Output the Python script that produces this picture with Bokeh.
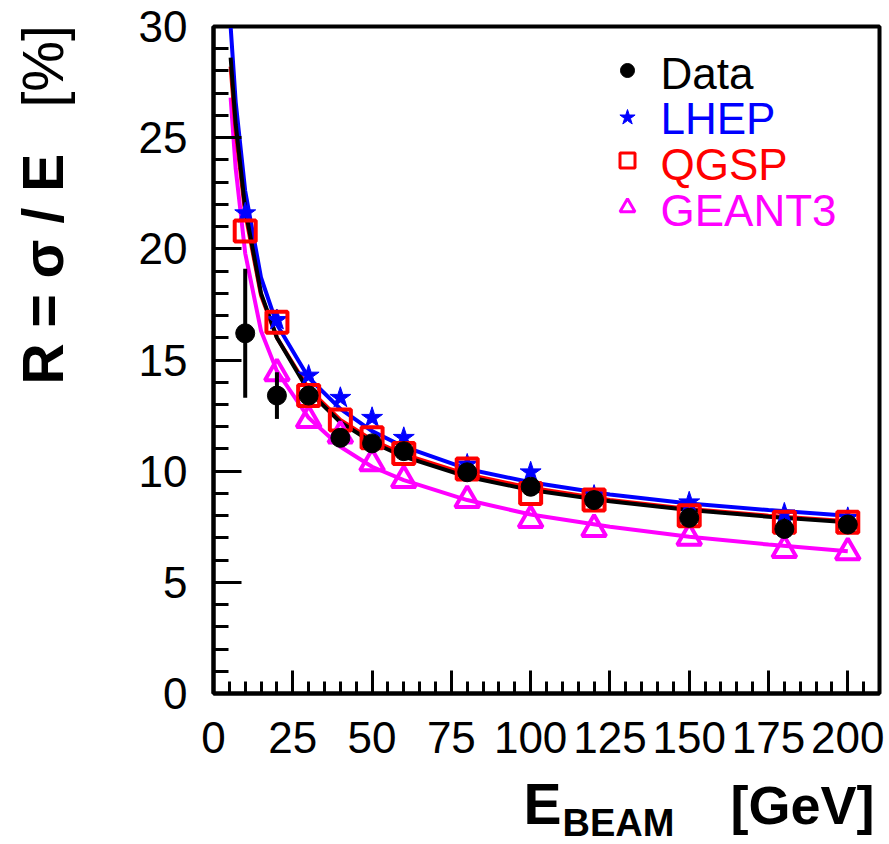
import math
from bokeh.plotting import figure
from bokeh.layouts import column, row
from bokeh.models import Range1d, SingleIntervalTicker, Label
from bokeh.embed import file_html
from bokeh.resources import INLINE

# ---------------- data ----------------
e_points = [10, 20, 30, 40, 50, 60, 80, 100, 120, 150, 180, 200]
data_r = [16.2, 13.4, 13.4, 11.5, 11.25, 10.9, 9.95, 9.3, 8.7, 7.9, 7.4, 7.6]
data_err = [2.9, 1.05, 0.3, 0.3, 0.3, 0.3, 0.3, 0.3, 0.3, 0.3, 0.3, 0.3]
lhep_r = [21.6, 16.8, 14.3, 13.3, 12.4, 11.5, 10.3, 9.95, 8.9, 8.6, 8.1, 7.9]
qgsp_r = [20.8, 16.7, 13.4, 12.3, 11.5, 10.8, 10.1, 9.0, 8.7, 8.0, 7.7, 7.7]
e_geant = [20, 30, 40, 50, 60, 80, 100, 120, 150, 180, 200]
geant3_r = [14.4, 12.3, 11.6, 10.35, 9.6, 8.7, 7.8, 7.4, 7.0, 6.45, 6.35]

# fitted curves
e_curve = [5.4, 7, 10, 15, 20, 30, 40, 50, 60, 80, 100, 125, 150, 175, 200]
fit_data = [28.6, 25.6, 21.8, 18.0, 16.0, 13.6, 12.2, 11.3, 10.65, 9.75, 9.15, 8.65, 8.25, 7.95, 7.7]
fit_lhep = [30.0, 26.6, 22.6, 18.7, 16.6, 14.2, 12.8, 11.8, 11.1, 10.1, 9.5, 8.95, 8.55, 8.25, 8.0]
fit_qgsp = [28.2, 25.3, 21.6, 17.9, 16.0, 13.7, 12.3, 11.4, 10.75, 9.85, 9.25, 8.7, 8.3, 8.0, 7.75]
fit_geant3 = [26.8, 23.6, 19.8, 16.3, 14.5, 12.4, 11.1, 10.2, 9.6, 8.7, 8.05, 7.5, 7.05, 6.7, 6.4]

legend_labels = ["Data", "LHEP", "QGSP", "GEANT3"]
x_ticks_interval = 25
y_ticks_interval = 5

# ---------------- layout ----------------
W, H = 889, 844
YT_W = 75            # width of the strip holding the y title
MAIN_H = 770         # height of the main figure
FL, FR, FT, FB = 213, 879, 26, 693   # frame edges in page pixels
XMAX, YMAX = 210, 30
FONT = "Liberation Sans"
MID = 0.3465         # distance from baseline to middle of the font box (em)


def to_x(px):
    return (px - FL) / ((FR - FL) / XMAX)


def to_y(py):
    return (FB - py) / ((FB - FT) / YMAX)


p = figure(width=W - YT_W, height=MAIN_H, output_backend="svg", toolbar_location=None,
           x_range=Range1d(0, XMAX), y_range=Range1d(0, YMAX),
           min_border_left=FL - YT_W, min_border_right=W - FR,
           min_border_top=FT, min_border_bottom=MAIN_H - FB)
p.background_fill_color = "white"
p.border_fill_color = "white"
p.grid.visible = False
p.outline_line_color = "black"
p.outline_line_width = 4

p.xaxis.ticker = SingleIntervalTicker(interval=x_ticks_interval, num_minor_ticks=5)
p.yaxis.ticker = SingleIntervalTicker(interval=y_ticks_interval, num_minor_ticks=5)
for ax in (p.xaxis, p.yaxis):
    ax.axis_line_width = 4
    ax.axis_line_color = "black"
    ax.major_tick_out = 0
    ax.minor_tick_out = 0
    ax.major_tick_line_width = 3
    ax.minor_tick_line_width = 3
    ax.major_label_text_font = FONT
    ax.major_label_text_font_size = "44px"
    ax.major_label_text_color = "black"
p.xaxis.major_tick_in = 23
p.xaxis.minor_tick_in = 12
p.yaxis.major_tick_in = 28
p.yaxis.minor_tick_in = 15
p.xaxis.major_label_standoff = 28
p.yaxis.major_label_standoff = 26

# curves
p.line(e_curve, fit_geant3, line_color="#ff00ff", line_width=4)
p.line(e_curve, fit_lhep, line_color="#0000ff", line_width=4)
p.line(e_curve, fit_qgsp, line_color="#ff0000", line_width=4)
p.line(e_curve, fit_data, line_color="black", line_width=4)

# markers
p.scatter(e_geant, geant3_r, marker="triangle", size=24, fill_alpha=0,
          line_color="#ff00ff", line_width=4)
p.scatter(e_points, lhep_r, marker="star", size=22, fill_color="#0000ff",
          line_color="#0000ff", line_width=1)
p.scatter(e_points, qgsp_r, marker="square", size=21, fill_alpha=0,
          line_color="#ff0000", line_width=4)
lo = [r - e for r, e in zip(data_r, data_err)]
hi = [r + e for r, e in zip(data_r, data_err)]
p.segment(e_points, lo, e_points, hi, line_color="black", line_width=4)
p.scatter(e_points, data_r, marker="circle", size=19, fill_color="black",
          line_color="black")

# legend (manual, each entry in its own colour)
leg_colors = ["black", "#0000ff", "#ff0000", "#ff00ff"]
leg_markers = ["circle", "star", "square", "triangle"]
leg_marker_py = [70, 117, 160, 207]
leg_text_py = [88, 133, 179, 225]
for lab, col, mk, mpy, tpy in zip(legend_labels, leg_colors, leg_markers,
                                 leg_marker_py, leg_text_py):
    if mk in ("square", "triangle"):
        p.scatter([to_x(627)], [to_y(mpy)], marker=mk, size=15, fill_alpha=0,
                  line_color=col, line_width=3)
    else:
        p.scatter([to_x(627)], [to_y(mpy)], marker=mk, size=16 if mk == "star" else 14,
                  fill_color=col, line_color=col)
    p.add_layout(Label(x=to_x(660), y=to_y(tpy - MID * 44), text=lab,
                       text_color=col, text_font=FONT, text_font_size="44px",
                       text_baseline="middle", text_align="left"))


def strip(w, h):
    f = figure(width=w, height=h, output_backend="svg", toolbar_location=None,
               x_range=Range1d(0, w), y_range=Range1d(0, h),
               x_axis_type=None, y_axis_type=None,
               min_border=0, min_border_left=0, min_border_right=0,
               min_border_top=0, min_border_bottom=0)
    f.outline_line_color = None
    f.grid.visible = False
    f.background_fill_color = "white"
    f.border_fill_color = "white"
    return f


# y-axis title strip (left of the main figure)
yt = strip(YT_W, MAIN_H)
ymid = 62 - MID * 57
yt.add_layout(Label(x=ymid, y=MAIN_H - 384, text="R = σ / E", angle=math.pi / 2,
                    text_font=FONT, text_font_size="57px", text_font_style="bold",
                    text_baseline="middle", text_align="left", text_color="black"))
yt.add_layout(Label(x=ymid, y=MAIN_H - 107, text="[%]", angle=math.pi / 2,
                    text_font=FONT, text_font_size="57px",
                    text_baseline="middle", text_align="left", text_color="black"))

# x-axis title strip (below)
XT_H = H - MAIN_H
xt = strip(W, XT_H)
xt.add_layout(Label(x=523, y=H - (823 - MID * 57), text="E",
                    text_font=FONT, text_font_size="57px", text_font_style="bold",
                    text_baseline="middle", text_align="left", text_color="black"))
xt.add_layout(Label(x=562, y=H - (836 - MID * 38), text="BEAM",
                    text_font=FONT, text_font_size="38px", text_font_style="bold",
                    text_baseline="middle", text_align="left", text_color="black"))
xt.add_layout(Label(x=730, y=H - (823 - MID * 54), text="[GeV]",
                    text_font=FONT, text_font_size="54px", text_font_style="bold",
                    text_baseline="middle", text_align="left", text_color="black"))

layout = column(row(yt, column(p, spacing=0), spacing=0), xt, spacing=0)
open("out.html", "w").write(file_html(layout, INLINE))
